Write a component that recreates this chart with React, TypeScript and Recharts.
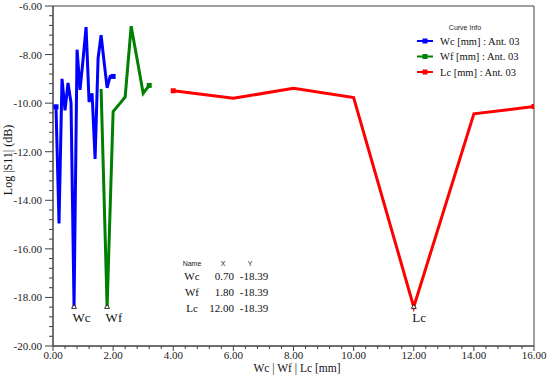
import React from 'react';
import { LineChart, Line, XAxis, YAxis, ReferenceArea, ReferenceDot, Legend } from 'recharts';

// ---- data ----
const wcX = [0.1, 0.2, 0.3, 0.4, 0.5, 0.6, 0.7, 0.8, 0.9, 1.0, 1.1, 1.2, 1.3, 1.4, 1.5, 1.6, 1.7, 1.8, 1.9, 2.0];
const wcY = [-10.15, -14.95, -9.0, -10.3, -9.17, -10.0, -18.39, -7.8, -9.45, -8.2, -6.87, -9.95, -9.6, -12.3, -8.15, -7.2, -8.3, -9.37, -8.9, -8.9];

const wfX = [1.6, 1.8, 2.0, 2.2, 2.4, 2.6, 2.8, 3.0, 3.2];
const wfY = [-9.42, -18.39, -10.35, -10.05, -9.75, -6.83, -8.2, -9.6, -9.27];

const lcX = [4, 6, 8, 10, 12, 14, 16];
const lcY = [-9.49, -9.8, -9.39, -9.77, -18.39, -10.44, -10.14];

const seriesNames = ['Wc [mm] : Ant. 03', 'Wf [mm] : Ant. 03', 'Lc [mm] : Ant. 03'];
const seriesColors = ['#0000ff', '#008000', '#ff0000'];

const minNames = ['Wc', 'Wf', 'Lc'];
const minX = [0.7, 1.8, 12.0];
const minY = [-18.39, -18.39, -18.39];

const xMajorTicks = [0, 2, 4, 6, 8, 10, 12, 14, 16];
const yMajorTicks = [-20, -18, -16, -14, -12, -10, -8, -6];
const minorStep = 0.4;

const xTicks = Array.from({ length: 41 }, (_, i) => +(i * minorStep).toFixed(1));
const yTicks = Array.from({ length: 36 }, (_, i) => +(-20 + i * minorStep).toFixed(1));

const wcData = wcX.map((x, i) => ({ x, y: wcY[i] }));
const wfData = wfX.map((x, i) => ({ x, y: wfY[i] }));
const lcData = lcX.map((x, i) => ({ x, y: lcY[i] }));

const SERIF = '"Liberation Serif", "Times New Roman", serif';
const SANS = '"Liberation Sans", Arial, sans-serif';
const AXIS = '#404040';

const YTick = (props: any) => {
  const { x, y, payload } = props;
  const v = payload.value;
  const major = yMajorTicks.includes(v);
  const ax = x + 11;
  return (
    <g>
      <line x1={ax - (major ? 8 : 4)} x2={ax} y1={y} y2={y} stroke={AXIS} strokeWidth={1} />
      {major && (
        <text x={x} y={y} dy={4} textAnchor="end" fontFamily={SERIF} fontSize={11} fill="#222">
          {v.toFixed(2)}
        </text>
      )}
    </g>
  );
};

const XTick = (props: any) => {
  const { x, y, payload } = props;
  const v = payload.value;
  const major = xMajorTicks.includes(v);
  const ay = y - 8;
  return (
    <g>
      <line x1={x} x2={x} y1={ay} y2={ay + (major ? 5 : 3)} stroke={AXIS} strokeWidth={1} />
      {major && (
        <text x={x} y={y} dy={5} textAnchor="middle" fontFamily={SERIF} fontSize={11} fill="#222">
          {v.toFixed(2)}
        </text>
      )}
    </g>
  );
};

const endSquare = (len: number, color: string, showFirst: boolean) => (p: any) => {
  const { cx, cy, index } = p;
  const show = (index === 0 && showFirst) || index === len - 1;
  if (!show) return <g key={`d-${index}`} />;
  return <rect key={`d-${index}`} x={cx - 2.5} y={cy - 2.5} width={5} height={5} fill={color} />;
};

const minShape = (name: string) => (p: any) => {
  const { cx, cy } = p;
  return (
    <g>
      <polygon
        points={`${cx - 2.5},${cy + 1.5} ${cx + 2.5},${cy + 1.5} ${cx},${cy - 2.5}`}
        fill="#fff"
        stroke="#000"
        strokeWidth={0.8}
      />
      <text x={cx - 1.5} y={cy + 15} fontFamily={SERIF} fontSize={13} fill="#111">
        {name}
      </text>
    </g>
  );
};

const LegendContent = () => (
  <svg width={135} height={65} style={{ display: 'block', overflow: 'visible' }}>
    <text x={60} y={11.5} textAnchor="middle" fontFamily={SANS} fontSize={7} fill="#222">
      Curve Info
    </text>
    {seriesNames.map((name, i) => {
      const cy = 23 + i * 15.5;
      return (
        <g key={name}>
          <line x1={12} x2={28} y1={cy} y2={cy} stroke={seriesColors[i]} strokeWidth={2} />
          <rect x={17.5} y={cy - 2.5} width={5} height={5} fill={seriesColors[i]} />
          <text x={35} y={cy + 3.5} fontFamily={SERIF} fontSize={10.5} fill="#111">
            {name}
          </text>
        </g>
      );
    })}
  </svg>
);

export default function App() {
  return (
    <div style={{ position: 'absolute', left: 0, top: 0, width: 550, height: 377, background: '#fff' }}>
      <LineChart width={550} height={377} margin={{ top: 6, right: 16, bottom: 0, left: 0 }}>
        <XAxis
          type="number"
          dataKey="x"
          domain={[0, 16]}
          ticks={xTicks}
          interval={0}
          tick={<XTick />}
          tickLine={false}
          tickSize={5}
          tickMargin={3}
          height={31}
          axisLine={{ stroke: AXIS }}
          allowDataOverflow
        />
        <YAxis
          type="number"
          dataKey="y"
          domain={[-20, -6]}
          ticks={yTicks}
          interval={0}
          tick={<YTick />}
          tickLine={false}
          tickSize={8}
          tickMargin={3}
          width={53}
          axisLine={{ stroke: AXIS }}
          allowDataOverflow
        />
        <ReferenceArea x1={0} x2={16} y1={-20} y2={-6} fill="none" stroke={AXIS} strokeWidth={1} ifOverflow="visible" />
        <Legend
          layout="horizontal"
          verticalAlign="middle"
          align="center"
          content={<LegendContent />}
          wrapperStyle={{ left: 405, top: 18, width: 135, height: 65 }}
        />
        <Line data={wcData} dataKey="y" name={seriesNames[0]} stroke={seriesColors[0]} strokeWidth={3} dot={endSquare(wcData.length, seriesColors[0], true)} activeDot={false} isAnimationActive={false} />
        <Line data={wfData} dataKey="y" name={seriesNames[1]} stroke={seriesColors[1]} strokeWidth={3} dot={endSquare(wfData.length, seriesColors[1], false)} activeDot={false} isAnimationActive={false} />
        <Line data={lcData} dataKey="y" name={seriesNames[2]} stroke={seriesColors[2]} strokeWidth={3} dot={endSquare(lcData.length, seriesColors[2], true)} activeDot={false} isAnimationActive={false} />
        {minNames.map((n, i) => (
          <ReferenceDot key={n} x={minX[i]} y={minY[i]} r={3} shape={minShape(n)} ifOverflow="visible" />
        ))}
      </LineChart>
      <svg width={550} height={377} style={{ position: 'absolute', left: 0, top: 0, pointerEvents: 'none' }}>
        <text x={12} y={160} transform="rotate(-90 12 160)" textAnchor="middle" fontFamily={SERIF} fontSize={12} fill="#111">
          Log |S11| (dB)
        </text>
        <text x={297} y={372} textAnchor="middle" fontFamily={SERIF} fontSize={11.5} fill="#111">
          Wc | Wf | Lc [mm]
        </text>
        <text x={192} y={265.5} textAnchor="middle" fontFamily={SANS} fontSize={7} fill="#222">Name</text>
        <text x={223} y={265.5} textAnchor="middle" fontFamily={SANS} fontSize={7} fill="#222">X</text>
        <text x={250} y={265.5} textAnchor="middle" fontFamily={SANS} fontSize={7} fill="#222">Y</text>
        {minNames.map((n, i) => (
          <g key={n}>
            <text x={192} y={280 + i * 16} textAnchor="middle" fontFamily={SERIF} fontSize={11} fill="#111">{n}</text>
            <text x={234} y={280 + i * 16} textAnchor="end" fontFamily={SERIF} fontSize={11} fill="#111">{minX[i].toFixed(2)}</text>
            <text x={254} y={280 + i * 16} textAnchor="middle" fontFamily={SERIF} fontSize={11} fill="#111">{minY[i].toFixed(2)}</text>
          </g>
        ))}
      </svg>
    </div>
  );
}
